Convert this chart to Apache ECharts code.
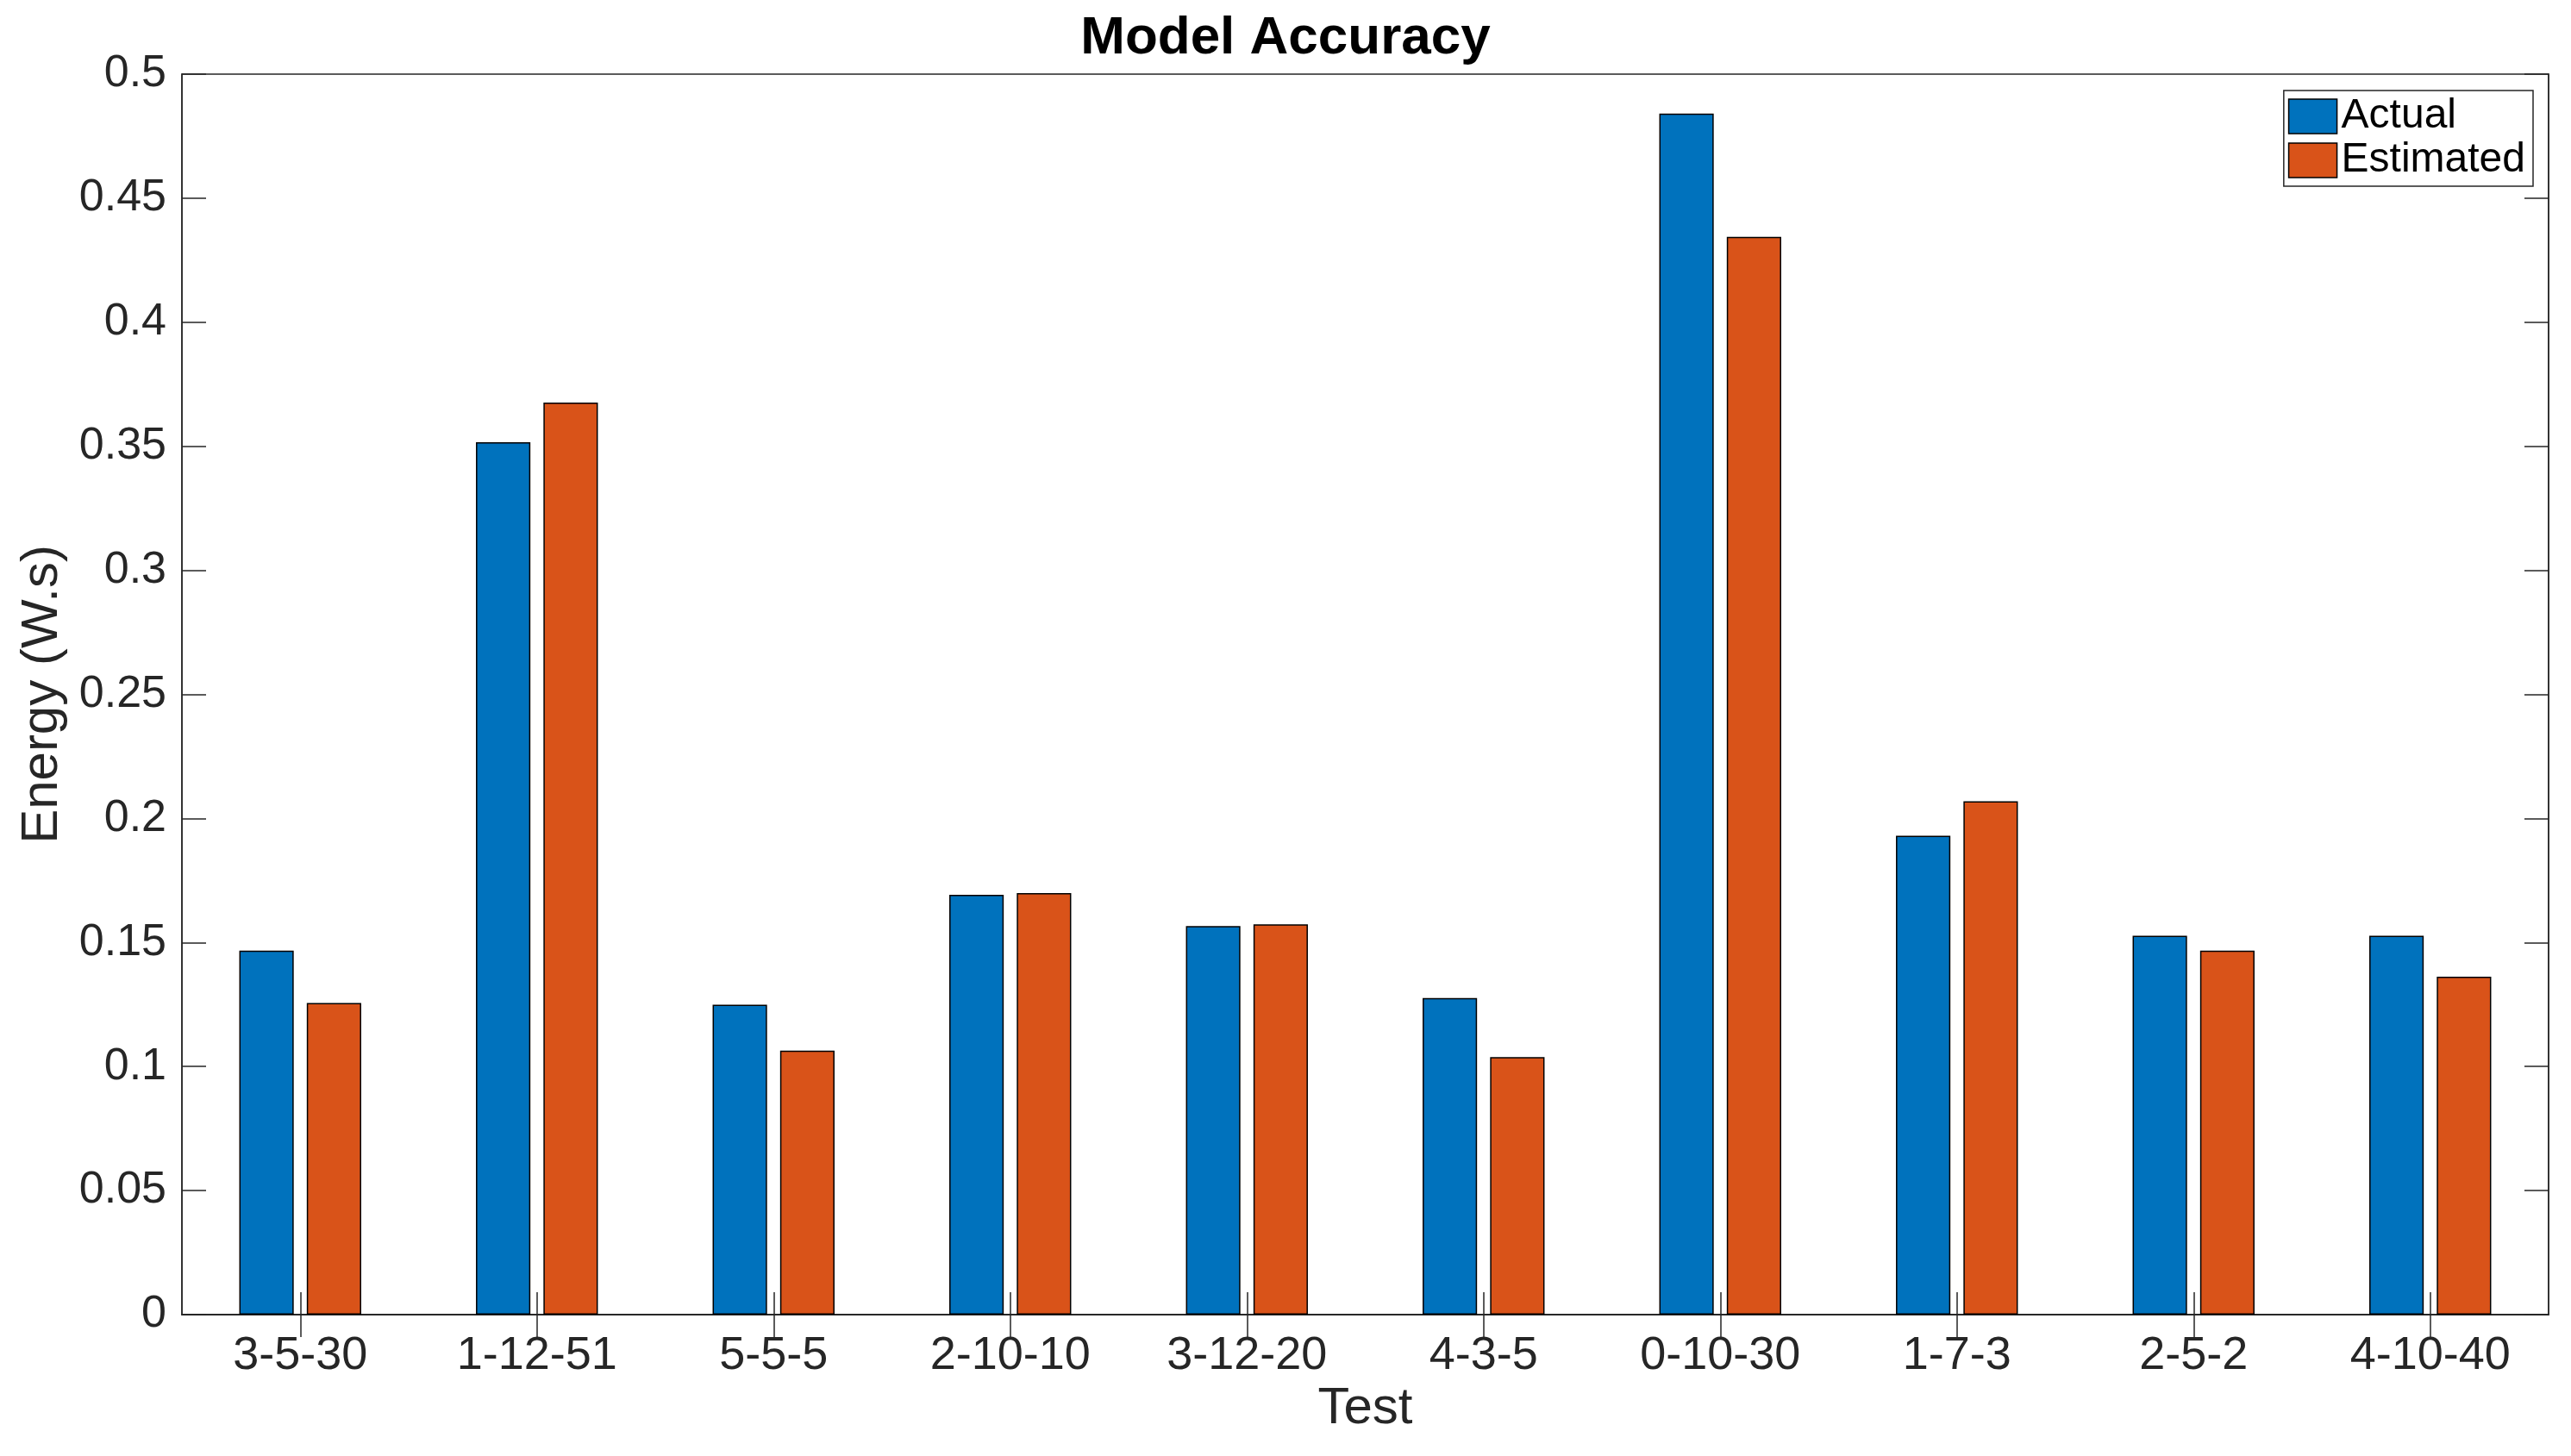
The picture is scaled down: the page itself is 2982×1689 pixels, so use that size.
<!DOCTYPE html>
<html>
<head>
<meta charset="utf-8">
<script src="https://cdn.jsdelivr.net/npm/echarts@6/dist/echarts.min.js"></script>
<style>
  html, body { margin: 0; padding: 0; background: #ffffff; }
  #chart { width: 2982px; height: 1689px; }
</style>
</head>
<body>
<div id="chart"></div>
<script>
const categories = ['3-5-30', '1-12-51', '5-5-5', '2-10-10', '3-12-20', '4-3-5', '0-10-30', '1-7-3', '2-5-2', '4-10-40'];
const actual = [0.1467, 0.3516, 0.1249, 0.1692, 0.1566, 0.1276, 0.4841, 0.1930, 0.1527, 0.1527];
const estimated = [0.1256, 0.3676, 0.1064, 0.1699, 0.1573, 0.1038, 0.4344, 0.2069, 0.1467, 0.1362];
const seriesNames = ['Actual', 'Estimated'];
const titleText = 'Model Accuracy';
const xName = 'Test';
const yName = 'Energy (W.s)';

const FONT = '"Liberation Sans", Arial, Helvetica, sans-serif';
const AX = '#262626';

const chart = echarts.init(document.getElementById('chart'), null, { renderer: 'canvas' });
chart.setOption({
  animation: false,
  backgroundColor: '#ffffff',
  title: {
    text: titleText,
    left: 'center',
    top: 14,
    padding: 0,
    textStyle: { fontFamily: FONT, fontSize: 62, fontWeight: 'bold', color: '#000000' }
  },
  legend: {
    data: seriesNames,
    orient: 'vertical',
    right: 44,
    top: 105,
    padding: [6, 9, 6, 5],
    icon: 'rect',
    itemWidth: 56,
    itemHeight: 40,
    itemGap: 3,
    borderColor: AX,
    borderWidth: 1.5,
    backgroundColor: '#ffffff',
    itemStyle: { borderColor: '#000000', borderWidth: 1.5 },
    textStyle: { fontFamily: FONT, fontSize: 48, color: '#000000' }
  },
  grid: {
    left: 211, right: 26, top: 86, bottom: 164,
    show: true, borderColor: AX, borderWidth: 1.5, backgroundColor: 'transparent'
  },
  xAxis: [
    {
      type: 'category',
      data: categories,
      position: 'bottom',
      name: xName,
      nameLocation: 'middle',
      nameGap: 72,
      nameTextStyle: { fontFamily: FONT, fontSize: 60, color: AX },
      axisLine: { show: true, lineStyle: { color: AX, width: 1.5 } },
      axisTick: { show: true, inside: true, length: 26, alignWithLabel: true, lineStyle: { color: AX, width: 1.5 } },
      axisLabel: { fontFamily: FONT, fontSize: 54, color: AX, margin: 21 },
      splitLine: { show: false }
    },
    {
      type: 'category',
      data: categories,
      position: 'top',
      axisLine: { show: true, lineStyle: { color: AX, width: 1.5 } },
      axisTick: { show: true, inside: true, length: 26, alignWithLabel: true, lineStyle: { color: AX, width: 1.5 } },
      axisLabel: { show: false },
      splitLine: { show: false }
    }
  ],
  yAxis: [
    {
      type: 'value',
      min: 0, max: 0.5, interval: 0.05,
      position: 'left',
      name: yName,
      nameLocation: 'middle',
      nameGap: 132,
      nameRotate: 90,
      nameTextStyle: { fontFamily: FONT, fontSize: 60, color: AX },
      axisLine: { show: true, lineStyle: { color: AX, width: 1.5 } },
      axisTick: { show: true, inside: true, length: 28, lineStyle: { color: AX, width: 1.5 } },
      axisLabel: { fontFamily: FONT, fontSize: 52, color: AX, margin: 18 },
      splitLine: { show: false }
    },
    {
      type: 'value',
      min: 0, max: 0.5, interval: 0.05,
      position: 'right',
      axisLine: { show: true, lineStyle: { color: AX, width: 1.5 } },
      axisTick: { show: true, inside: true, length: 28, lineStyle: { color: AX, width: 1.5 } },
      axisLabel: { show: false },
      splitLine: { show: false }
    }
  ],
  series: [
    {
      name: seriesNames[0],
      type: 'bar',
      xAxisIndex: 0, yAxisIndex: 0,
      data: actual,
      barWidth: '23%',
      barGap: '24%',
      itemStyle: { color: '#0072BD', borderColor: '#000000', borderWidth: 1.5 }
    },
    {
      name: seriesNames[1],
      type: 'bar',
      xAxisIndex: 0, yAxisIndex: 0,
      data: estimated,
      barWidth: '23%',
      barGap: '24%',
      itemStyle: { color: '#D95319', borderColor: '#000000', borderWidth: 1.5 }
    }
  ]
});
</script>
</body>
</html>
